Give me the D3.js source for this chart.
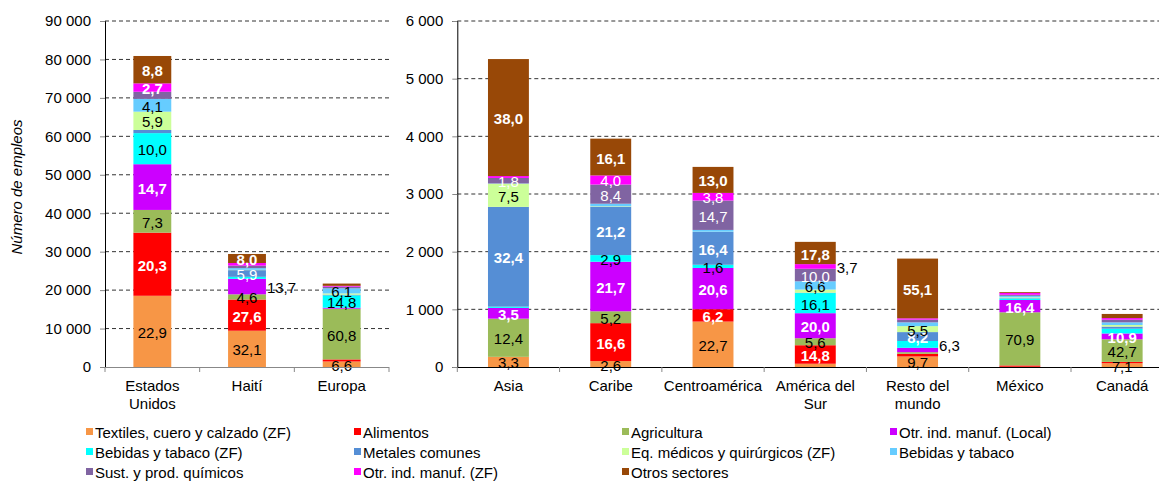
<!DOCTYPE html>
<html><head><meta charset="utf-8">
<script src="https://cdn.jsdelivr.net/npm/d3@7"></script>
<style>
body{margin:0;background:#fff;}
svg{font-family:"Liberation Sans",Arial,sans-serif;}
</style></head>
<body><svg id="c" width="1159" height="481"></svg>
<script>
// ---- DATA ----
const countriesLeft = ["Estados Unidos","Haití","Europa"];
const countriesRight = ["Asia","Caribe","Centroamérica","América del Sur","Resto del mundo","México","Canadá"];
const categoryLines = {"Estados Unidos":["Estados","Unidos"],"Haití":["Haití"],"Europa":["Europa"],"Asia":["Asia"],"Caribe":["Caribe"],"Centroamérica":["Centroamérica"],"América del Sur":["América del","Sur"],"Resto del mundo":["Resto del","mundo"],"México":["México"],"Canadá":["Canadá"]};
const totals = [80900, 29400, 21700, 5340, 3960, 3470, 2170, 1880, 1300, 920];
const seriesNames = ["Textiles, cuero y calzado (ZF)","Alimentos","Agricultura","Otr. ind. manuf. (Local)","Bebidas y tabaco (ZF)","Metales comunes","Eq. médicos y quirúrgicos (ZF)","Bebidas y tabaco","Sust. y prod. químicos","Otr. ind. manuf. (ZF)","Otros sectores"];
// shares (%) per country, order: EEUU, Haití, Europa, Asia, Caribe, Centroamérica, Am. Sur, Resto, México, Canadá
const textiles    = [22.9, 32.1,  6.6,  3.3,  2.6, 22.7,  2.6,  9.7,  0.3,  7.1];
const alimentos   = [20.3, 27.6,  2.5,  0.0, 16.6,  6.2, 14.8,  2.5,  1.8,  2.5];
const agricultura = [ 7.3,  4.6, 60.8, 12.4,  5.2,  0.0,  5.6,  1.5, 70.9, 42.7];
const otrLocal    = [14.7, 13.7,  1.2,  3.5, 21.7, 20.6, 20.0,  4.0, 16.4, 10.9];
const bebidasZF   = [10.0,  1.8, 14.8,  0.4,  2.9,  1.6, 16.1,  6.3,  2.0,  9.0];
const metales     = [ 1.0,  5.9,  0.8, 32.4, 21.2, 16.4,  0.3,  8.2,  0.5,  4.0];
const eqMedicos   = [ 5.9,  0.3,  1.5,  7.5,  0.2,  0.1,  2.5,  5.5,  1.0,  3.0];
const bebidas     = [ 4.1,  1.5,  6.1,  0.1,  1.1,  0.9,  6.6,  3.5,  2.0,  5.0];
const sustQuim    = [ 2.3,  2.2,  2.0,  1.8,  8.4, 14.7, 10.0,  2.5,  1.5,  5.0];
const otrZF       = [ 2.7,  2.3,  1.0,  0.6,  4.0,  3.8,  3.7,  1.2,  2.5,  3.0];
const otros       = [ 8.8,  8.0,  2.7, 38.0, 16.1, 13.0, 17.8, 55.1,  1.1,  7.8];
// label visibility: 0 none, 1 inside (series style), 2 beside the bar, 3 inside bold, 4 inside regular weight
const lblTextiles    = [1,1,1,1,1,1,0,1,0,1];
const lblAlimentos   = [1,1,0,0,1,1,1,0,0,0];
const lblAgricultura = [1,1,1,1,1,0,1,0,1,1];
const lblOtrLocal    = [1,2,0,1,1,1,1,0,1,1];
const lblBebidasZF   = [1,0,1,0,1,1,1,2,0,0];
const lblMetales     = [0,4,0,1,1,1,0,1,0,0];
const lblEq          = [1,0,0,1,0,0,0,1,0,0];
const lblBebidas     = [1,0,1,0,0,0,1,0,0,0];
const lblSust        = [0,0,0,1,1,1,1,0,0,0];
const lblOtrZF       = [3,0,0,0,1,1,2,0,0,0];
const lblOtros       = [1,1,0,1,1,1,1,1,0,0];
const leftTicks = [0,10000,20000,30000,40000,50000,60000,70000,80000,90000];
const rightTicks = [0,1000,2000,3000,4000,5000,6000];

// ---- STYLE ----
const colors = ["#F79646","#FF0000","#9BBB59","#CC00FF","#00FFFF","#558ED5","#CCFF99","#66CCFF","#8064A2","#FF00FF","#984807"];
const labelStyle = [["#000","normal"],["#fff","bold"],["#000","normal"],["#fff","bold"],["#000","normal"],["#fff","bold"],["#000","normal"],["#000","normal"],["#fff","normal"],["#fff","normal"],["#fff","bold"]];

const shares = [textiles,alimentos,agricultura,otrLocal,bebidasZF,metales,eqMedicos,bebidas,sustQuim,otrZF,otros];
const lbls = [lblTextiles,lblAlimentos,lblAgricultura,lblOtrLocal,lblBebidasZF,lblMetales,lblEq,lblBebidas,lblSust,lblOtrZF,lblOtros];
const allCountries = countriesLeft.concat(countriesRight);
const rows = allCountries.map((c,i)=>{const r={country:c}; seriesNames.forEach((s,k)=>{r[s]=totals[i]*shares[k][i]/100;}); return r;});
const stack = d3.stack().keys(seriesNames);

const loc = d3.formatLocale({decimal:",",thousands:"\u00a0",grouping:[3],currency:["",""]});
const fmtTick = loc.format(",d");
const fmtPct = loc.format(".1f");

const svg = d3.select("#c");
const FS = 15;

function panel(countries, x0, x1, yMax, ticks, xAxisColor, gridEnd){
  const data = rows.filter(r=>countries.includes(r.country));
  const x = d3.scaleBand().domain(countries).range([x0,x1]).paddingInner(0.6).paddingOuter(0.3);
  const y = d3.scaleLinear().domain([0,yMax]).range([367,21]);
  const g = svg.append("g");
  g.selectAll("line.grid").data(ticks.filter(t=>t>0)).join("line")
    .attr("x1",x0).attr("x2",gridEnd).attr("y1",d=>y(d)).attr("y2",d=>y(d))
    .attr("stroke","#333").attr("stroke-dasharray","4,3").attr("stroke-width",1);
  const ya = d3.axisLeft(y).tickValues(ticks).tickFormat(fmtTick).tickSize(5).tickPadding(9);
  const yg = g.append("g").attr("transform",`translate(${x0},0)`).call(ya);
  yg.select(".domain").attr("stroke","#000");
  yg.selectAll(".tick line").attr("stroke","#888");
  yg.selectAll("text").attr("font-size",FS).attr("fill","#000").attr("font-family","Liberation Sans, Arial, sans-serif");
  const series = stack(data);
  const sg = g.selectAll("g.s").data(series).join("g").attr("fill",(d,i)=>colors[i]);
  sg.selectAll("rect").data(d=>d).join("rect")
    .attr("x",d=>x(d.data.country)).attr("width",x.bandwidth())
    .attr("y",d=>y(d[1])).attr("height",d=>Math.max(0,y(d[0])-y(d[1])));
  series.forEach((s,k)=>{
    s.forEach(d=>{
      const ci = allCountries.indexOf(d.data.country);
      const mode = lbls[k][ci];
      if(!mode) return;
      const cy = (y(d[0])+y(d[1]))/2;
      const t = g.append("text").text(fmtPct(shares[k][ci]))
        .attr("font-size",FS).attr("dominant-baseline","central");
      if(mode===2){
        t.attr("x",x(d.data.country)+x.bandwidth()+1).attr("y",cy+1).attr("text-anchor","start").attr("fill","#000");
      } else {
        const w = mode===3 ? "bold" : mode===4 ? "normal" : labelStyle[k][1];
        t.attr("x",x(d.data.country)+x.bandwidth()/2).attr("y",cy+1).attr("text-anchor","middle")
         .attr("fill",labelStyle[k][0]).attr("font-weight",w);
      }
    });
  });
  g.append("line").attr("x1",x0).attr("x2",gridEnd).attr("y1",367.5).attr("y2",367.5).attr("stroke",xAxisColor);
  const step = x.step();
  d3.range(countries.length+1).forEach(i=>{
    const bx = x0 + i*step;
    g.append("line").attr("x1",bx).attr("x2",bx).attr("y1",367).attr("y2",372).attr("stroke","#888");
  });
  countries.forEach(c=>{
    const t = g.append("text").attr("text-anchor","middle").attr("font-size",FS)
      .attr("x",x(c)+x.bandwidth()/2).attr("y",391);
    categoryLines[c].forEach((ln,j)=>{
      t.append("tspan").attr("x",x(c)+x.bandwidth()/2).attr("dy",j?18:0).text(ln);
    });
  });
}
panel(countriesLeft,105,389,90000,leftTicks,"#888",389);
panel(countriesRight,457.3,1173.3,6000,rightTicks,"#000",1159);

svg.append("text").attr("transform","translate(22,187) rotate(-90)").attr("text-anchor","middle")
  .attr("font-size",FS).attr("font-style","italic").text("Número de empleos");

const legX = [86,354,622,890];
const legY = [432,452,472];
const lg = svg.append("g");
seriesNames.forEach((s,i)=>{
  const cx = legX[i%4], cy = legY[Math.floor(i/4)];
  lg.append("rect").attr("x",cx).attr("y",cy-4).attr("width",7).attr("height",7).attr("fill",colors[i]);
  lg.append("text").attr("x",cx+9).attr("y",cy).attr("dominant-baseline","central").attr("font-size",FS).text(s);
});
</script></body></html>
